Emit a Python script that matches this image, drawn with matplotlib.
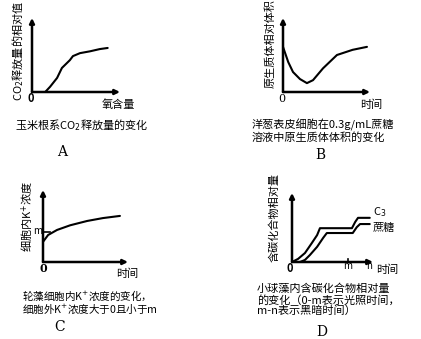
import matplotlib
matplotlib.use("Agg")
import matplotlib.pyplot as plt

plt.rcParams['font.family'] = ['Noto Sans CJK SC', 'DejaVu Sans']
plt.rcParams['mathtext.fontset'] = 'dejavusans'

# A: CO2 release vs oxygen content
a_x = [1.5, 2.05, 2.85, 3.4, 4.3, 4.65, 5.45, 6.6, 7.7, 8.6]
a_y = [0.0, 0.7, 1.9, 3.25, 4.3, 4.85, 5.25, 5.5, 5.8, 5.95]

# B: protoplast volume vs time
b_x = [0.0, 0.6, 1.15, 1.95, 2.75, 3.45, 4.6, 6.2, 8.0, 9.65]
b_y = [6.1, 4.05, 2.7, 1.75, 1.2, 1.6, 3.2, 5.0, 5.7, 6.1]

# C: K+ concentration in cells vs time
c_x = [0.0, 0.6, 1.65, 3.2, 5.2, 7.05, 9.05]
c_y = [2.8, 3.75, 4.45, 5.1, 5.7, 6.1, 6.4]
c_m = 4.2

# D: carbon compounds vs time
d_c3_x = [0.0, 0.75, 1.6, 2.45, 3.1, 3.45, 3.85, 7.4, 7.8, 8.15, 9.6]
d_c3_y = [0.0, 0.45, 1.3, 2.75, 3.9, 4.9, 4.9, 4.9, 5.8, 6.4, 6.4]
d_su_x = [1.0, 1.6, 2.2, 3.1, 3.85, 4.3, 4.7, 7.5, 8.0, 8.4, 9.6]
d_su_y = [0.0, 0.3, 1.0, 2.2, 3.5, 4.2, 4.2, 4.2, 5.05, 5.5, 5.5]
d_m, d_n = 6.9, 9.25

W, H = 421, 339
fig = plt.figure(figsize=(W / 100, H / 100), dpi=100)


def fx(px):
    return px / W


def fy(py):
    return 1 - py / H


def panel(l, t, r, b):
    ax = fig.add_axes([fx(l), fy(b), (r - l) / W, (b - t) / H])
    ax.set_xlim(0, 10)
    ax.set_ylim(0, 10)
    ax.axis('off')
    arrow = dict(arrowstyle='-|>', lw=1.8, color='black', mutation_scale=7,
                 shrinkA=0, shrinkB=0)
    ax.annotate('', xy=(0, 1), xytext=(0, 0), xycoords='axes fraction',
                arrowprops=arrow)
    ax.annotate('', xy=(1, 0), xytext=(0, 0), xycoords='axes fraction',
                arrowprops=arrow)
    return ax


def txt(x, y, s, size=8, **kw):
    kw.setdefault('ha', 'center')
    kw.setdefault('va', 'center')
    fig.text(fx(x), fy(y), s, fontsize=size, **kw)


line = dict(color='black', lw=1.5, clip_on=False, solid_capstyle='round',
            solid_joinstyle='round')

# A
ax = panel(32, 18, 120, 92)
ax.plot(a_x, a_y, **line)
txt(18, 51, 'CO$_2$释放量的相对值', rotation=90)
txt(31, 98, '0', size=8, weight='bold')
txt(118, 105, '氧含量')
txt(15, 125, '玉米根系CO$_2$释放量的变化', ha='left')
txt(62, 152, 'A', size=10, family='DejaVu Serif')

# B
ax = panel(283, 18, 370, 92)
ax.plot(b_x, b_y, **line)
txt(270, 44, '原生质体相对体积', rotation=90)
txt(282, 99, '0', size=8, family='DejaVu Serif')
txt(371, 105, '时间')
txt(252, 125, '洋葱表皮细胞在0.3g/mL蔗糖', ha='left')
txt(252, 137, '溶液中原生质体体积的变化', ha='left')
txt(320, 155, 'B', size=10, family='DejaVu Serif')

# C
ax = panel(43, 190, 128, 262)
ax.plot(c_x, c_y, **line)
ax.plot([0, 0.8], [c_m, c_m], color='black', lw=1.2, clip_on=False)
txt(27, 216, '细胞内K$^{+}$浓度', rotation=90)
txt(38, 231, 'm', size=7)
txt(43, 269, '0', size=8, family='DejaVu Serif', weight='bold')
txt(127, 274, '时间')
txt(22, 296, '轮藻细胞内K$^{+}$浓度的变化，', size=7.6, ha='left')
txt(22, 309.5, '细胞外K$^{+}$浓度大于0且小于m', size=7.6, ha='left')
txt(60, 327, 'C', size=10, family='DejaVu Serif')

# D
ax = panel(292, 193, 373, 262)
ax.plot(d_c3_x, d_c3_y, **line)
ax.plot(d_su_x, d_su_y, **line)
ax.plot([d_m, d_m], [0, 0.5], color='black', lw=1.2, clip_on=False)
txt(274, 217, '含碳化合物相对量', rotation=90)
txt(290, 269, '0', size=8, weight='bold')
txt(348, 266, 'm', size=7)
txt(369, 266, 'n', size=7)
txt(380, 212, 'C$_3$', size=8)
txt(384, 228, '蔗糖')
txt(387, 270, '时间')
txt(257, 289, '小球藻内含碳化合物相对量', ha='left')
txt(257, 300, '的变化（0-m表示光照时间，', ha='left')
txt(257, 311, 'm-n表示黑暗时间）', ha='left')
txt(322, 332, 'D', size=10, family='DejaVu Serif')

fig.savefig('out.png', dpi=100)
